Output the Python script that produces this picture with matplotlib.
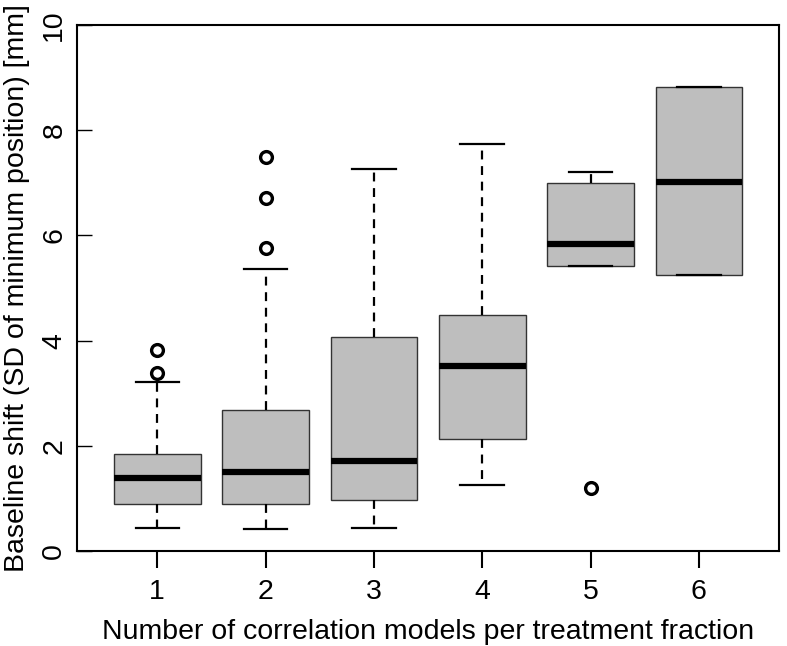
import matplotlib
matplotlib.use("Agg")
import matplotlib.pyplot as plt

plt.rcParams['font.family'] = ['Liberation Sans', 'DejaVu Sans']

categories = ["1", "2", "3", "4", "5", "6"]
whislo = [0.44, 0.41, 0.43, 1.26, 5.42, 5.24]
q1     = [0.89, 0.89, 0.97, 2.12, 5.42, 5.24]
med    = [1.39, 1.50, 1.72, 3.52, 5.84, 7.02]
q3     = [1.84, 2.69, 4.06, 4.49, 6.99, 8.82]
whishi = [3.21, 5.36, 7.26, 7.74, 7.20, 8.82]
fliers = [[3.38, 3.83], [5.76, 6.71, 7.49], [], [], [1.20], []]

stats = []
for i, c in enumerate(categories):
    stats.append(dict(label=c, whislo=whislo[i], q1=q1[i], med=med[i],
                      q3=q3[i], whishi=whishi[i], fliers=fliers[i]))

fig = plt.figure(figsize=(7.87, 6.46), dpi=100)
W, H = 787, 646
ax = fig.add_axes([77 / W, (H - 551) / H, (779 - 77) / W, (551 - 25) / H])

positions = list(range(1, len(categories) + 1))
ax.bxp(stats, positions=positions, widths=0.8, patch_artist=True,
       boxprops=dict(facecolor='#bebebe', edgecolor='#333333', linewidth=1.0),
       medianprops=dict(color='black', linewidth=4.5, solid_capstyle='butt'),
       whiskerprops=dict(color='black', linewidth=1.6, linestyle=(0, (4, 3))),
       capprops=dict(color='black', linewidth=1.6),
       capwidths=0.4,
       flierprops=dict(marker='o', markerfacecolor='none', markeredgecolor='black',
                       markersize=8.5, markeredgewidth=2.4))

ax.set_xlim(0.26, 6.74)
ax.set_ylim(0, 10)
ax.set_xticks(positions)
ax.set_xticklabels(categories)
ax.set_yticks([0, 2, 4, 6, 8, 10])
ax.set_yticklabels(["0", "2", "4", "6", "8", "10"], rotation=90, va='center')

for s in ax.spines.values():
    s.set_linewidth(1.5)
    s.set_color('black')

ax.tick_params(axis='x', direction='out', length=12, width=1.5, pad=8, labelsize=20.5)
ax.tick_params(axis='y', direction='in', length=11, width=1.0, pad=7, labelsize=20.5)

ax.set_xlabel("Number of correlation models per treatment fraction", fontsize=20.5, labelpad=10)
ax.set_ylabel("Baseline shift (SD of minimum position) [mm]", fontsize=20.5, labelpad=8)

fig.savefig("out.png", dpi=100)
